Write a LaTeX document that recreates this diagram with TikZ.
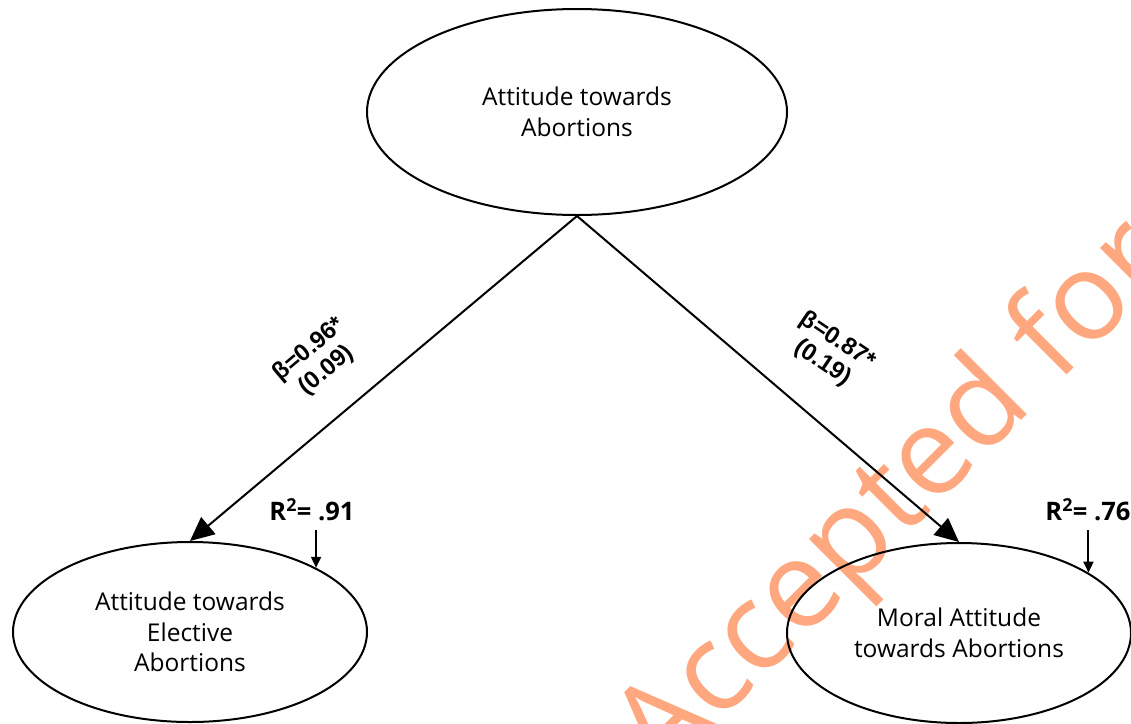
\documentclass[tikz,border=0pt]{standalone}
\usepackage{fontspec}
\setmainfont{Open Sans}
\newfontfamily\labfont{Liberation Sans}
\usetikzlibrary{shapes.geometric,arrows.meta}
\definecolor{wmcol}{HTML}{FFA880}
\begin{document}
\begin{tikzpicture}[x=1pt,y=-1pt,
  latent/.style={draw, line width=2pt, ellipse, inner sep=0pt, align=center,
    font=\fontsize{24.5}{30.5}\selectfont},
  pathar/.style={line width=2pt, -{Triangle[length=24pt,width=22pt]}},
  resid/.style={line width=2pt, -{Triangle[length=11pt,width=10pt]}},
  coef/.style={font=\labfont\bfseries\fontsize{24}{27}\selectfont, align=center, inner sep=0pt},
  rsq/.style={font=\bfseries\fontsize{25.5}{26}\selectfont, inner sep=0pt},
  wm/.style={font=\fontsize{123}{126}\selectfont, text=wmcol, inner sep=0pt, anchor=base west, rotate=45}]
\useasboundingbox (0,0) rectangle (1131,723);
\clip (0,0) rectangle (1131,723);
\fill[white] (0,0) rectangle (1131,723);
% watermark
\node[wm] (wmark) at (662,780) {Accepted for};
% latent variables
\node[latent, minimum width=420pt, minimum height=206pt] (top) at (577,112) {Attitude towards\\Abortions};
\node[latent, minimum width=354pt, minimum height=180pt] (left) at (190,632) {Attitude towards\\Elective\\Abortions};
\node[latent, minimum width=344pt, minimum height=180pt] (right) at (959,633) {Moral Attitude\\towards Abortions};
% paths
\draw[pathar] (top.south) -- (left.north);
\draw[pathar] (top.south) -- (right.north);
\node[coef, rotate=40] (cl) at (318,360) {β=0.96*\\(0.09)};
\node[coef, rotate=-34] (cr) at (830,352) {β=0.87*\\(0.19)};
% R squared
\node[rsq] (rl) at (312,510) {R\textsuperscript{2}= .91};
\node[rsq] (rr) at (1088,510) {R\textsuperscript{2}= .76};
\coordinate (el) at (left.27 |- 0,530);
\coordinate (er) at (right.25 |- 0,530);
\draw[resid] (el) -- (left.27);
\draw[resid] (er) -- (right.25);
\end{tikzpicture}
\end{document}
